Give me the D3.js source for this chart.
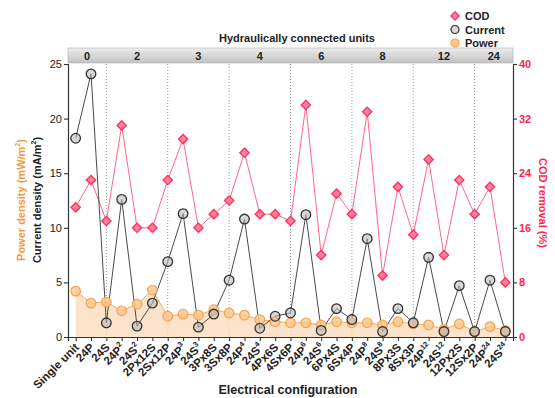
<!DOCTYPE html>
<html>
<head>
<meta charset="utf-8">
<script src="https://cdn.jsdelivr.net/npm/d3@7"></script>
<style>
  body { margin: 0; background: #fff; }
  svg { font-family: "Liberation Sans", Arial, sans-serif; }
</style>
</head>
<body>
<script>
// categories, "^" marks the superscript part
var categories = ["Single unit", "24P", "24S", "24P^2", "24S^2", "2Px12S", "2Sx12P",
  "24P^3", "24S^3", "3Px8S", "3Sx8P", "24P^4", "24S^4", "4Px6S", "4Sx6P",
  "24P^6", "24S^6", "6Px4S", "6Sx4P", "24P^8", "24S^8", "8Px3S", "8Sx3P",
  "24P^12", "24S^12", "12Px2S", "12Sx2P", "24P^24", "24S^24"];

var currentVals = [18.2, 24.1, 1.3, 12.6, 1.0, 3.1, 6.9, 11.3, 0.9, 2.1, 5.2, 10.8, 0.8, 1.9, 2.2,
  11.2, 0.6, 2.6, 1.6, 9.0, 0.5, 2.6, 1.3, 7.3, 0.5, 4.7, 0.5, 5.2, 0.5];

var powerVals = [4.2, 3.1, 3.2, 2.4, 3.0, 4.3, 1.9, 2.1, 2.0, 2.5, 2.2, 2.0, 1.6, 1.4, 1.3,
  1.3, 1.1, 1.4, 1.3, 1.3, 1.1, 1.4, 1.2, 1.1, 0.7, 1.2, 0.5, 0.95, 0.6];

var codVals = [19, 23, 17, 31, 16, 16, 23, 29, 16, 18, 20, 27, 18, 18, 17,
  34, 12, 21, 18, 33, 9, 22, 15, 26, 12, 23, 18, 22, 8];

// hydraulically connected units: header labels and the last category of each block
var groupLabels = ["0", "2", "3", "4", "6", "8", "12", "24"];
var groupEnds = ["24S", "2Sx12P", "3Sx8P", "4Sx6P", "6Sx4P", "8Sx3P", "12Sx2P"];

var leftTicks = [0, 5, 10, 15, 20, 25];
var rightTicks = [0, 8, 16, 24, 32, 40];

var W = 555, H = 398;
var pLeft = 68, pRight = 513, pTop = 64, pBottom = 337;

var svg = d3.select("body").append("svg")
  .attr("width", W).attr("height", H);

var x = d3.scalePoint().domain(categories).range([pLeft, pRight]).padding(0.5);
var y = d3.scaleLinear().domain([0, 25]).range([pBottom, pTop]);
var y2 = d3.scaleLinear().domain([0, 40]).range([pBottom, pTop]);

// header gradient
var defs = svg.append("defs");
var grad = defs.append("linearGradient").attr("id", "hdr")
  .attr("x1", 0).attr("y1", 0).attr("x2", 0).attr("y2", 1);
grad.append("stop").attr("offset", "0%").attr("stop-color", "#ececec");
grad.append("stop").attr("offset", "100%").attr("stop-color", "#c2c2c2");

// group boundaries
var bounds = [pLeft].concat(groupEnds.map(function(c) { return x(c); })).concat([pRight]);

svg.append("rect")
  .attr("x", pLeft).attr("y", 48).attr("width", pRight - pLeft).attr("height", 15)
  .attr("fill", "url(#hdr)").attr("stroke", "#b0b0b0").attr("stroke-width", 0.6);

svg.selectAll(".glab")
  .data(groupLabels)
  .enter().append("text")
  .attr("class", "glab")
  .attr("x", function(d, i) { return (bounds[i] + bounds[i + 1]) / 2; })
  .attr("y", 60)
  .attr("text-anchor", "middle")
  .attr("font-size", 11).attr("font-weight", "bold").attr("fill", "#222")
  .text(function(d) { return d; });

svg.append("text")
  .attr("x", 297).attr("y", 42)
  .attr("text-anchor", "middle")
  .attr("font-size", 11).attr("font-weight", "bold").attr("fill", "#222")
  .text("Hydraulically connected units");

// dotted separators
svg.selectAll(".sep")
  .data(groupEnds)
  .enter().append("line")
  .attr("class", "sep")
  .attr("x1", function(d) { return x(d); })
  .attr("x2", function(d) { return x(d); })
  .attr("y1", pTop).attr("y2", pBottom)
  .attr("stroke", "#9a9a9a").attr("stroke-width", 1)
  .attr("stroke-dasharray", "1,2");

// power area + line
var area = d3.area()
  .x(function(d, i) { return x(categories[i]); })
  .y0(y(0))
  .y1(function(d) { return y(d); });

svg.append("path")
  .datum(powerVals)
  .attr("d", area)
  .attr("fill", "#fcdcbd").attr("opacity", 0.8);

var line = function(scale) {
  return d3.line()
    .x(function(d, i) { return x(categories[i]); })
    .y(function(d) { return scale(d); });
};

svg.append("path")
  .datum(powerVals)
  .attr("d", line(y))
  .attr("fill", "none").attr("stroke", "#f7a860").attr("stroke-width", 1);

svg.append("path")
  .datum(codVals)
  .attr("d", line(y2))
  .attr("fill", "none").attr("stroke", "#ff6688").attr("stroke-width", 1);

svg.append("path")
  .datum(currentVals)
  .attr("d", line(y))
  .attr("fill", "none").attr("stroke", "#4a4a4a").attr("stroke-width", 1);

// markers
svg.selectAll(".pw")
  .data(powerVals)
  .enter().append("circle")
  .attr("class", "pw")
  .attr("cx", function(d, i) { return x(categories[i]); })
  .attr("cy", function(d) { return y(d); })
  .attr("r", 4.8)
  .attr("fill", "#fcc990").attr("stroke", "#f6a24e").attr("stroke-width", 1.2)
  .attr("fill-opacity", 0.85);

var diamond = d3.symbol().type(d3.symbolDiamond2).size(55);

svg.selectAll(".cod")
  .data(codVals)
  .enter().append("path")
  .attr("class", "cod")
  .attr("transform", function(d, i) { return "translate(" + x(categories[i]) + "," + y2(d) + ")"; })
  .attr("d", diamond)
  .attr("fill", "#ff7f9c").attr("stroke", "#ff2d5f").attr("stroke-width", 1.3);

svg.selectAll(".cur")
  .data(currentVals)
  .enter().append("circle")
  .attr("class", "cur")
  .attr("cx", function(d, i) { return x(categories[i]); })
  .attr("cy", function(d) { return y(d); })
  .attr("r", 4.8)
  .attr("fill", "#b8b8b8").attr("fill-opacity", 0.55)
  .attr("stroke", "#333").attr("stroke-width", 1.3);

// axes
var yAxis = svg.append("g")
  .attr("transform", "translate(" + pLeft + ",0)")
  .call(d3.axisLeft(y).tickValues(leftTicks).tickSize(4).tickPadding(2));
yAxis.selectAll("text").attr("font-size", 11).attr("fill", "#222")
  .attr("font-family", "Liberation Sans, Arial, sans-serif");

var y2Axis = svg.append("g")
  .attr("transform", "translate(" + pRight + ",0)")
  .call(d3.axisRight(y2).tickValues(rightTicks).tickSize(4).tickPadding(2));
y2Axis.selectAll("text").attr("font-size", 11).attr("font-weight", "bold").attr("fill", "#ff1f4f")
  .attr("font-family", "Liberation Sans, Arial, sans-serif");

var xAxis = svg.append("g")
  .attr("transform", "translate(0," + pBottom + ")")
  .call(d3.axisBottom(x).tickSize(4).tickFormat(""));

[yAxis, y2Axis, xAxis].forEach(function(g) {
  g.select(".domain").attr("stroke", "#333").attr("stroke-width", 1.2);
  g.selectAll(".tick line").attr("stroke", "#333").attr("stroke-width", 1.1);
});

// rotated category labels with superscripts
var labs = svg.selectAll(".xlab")
  .data(categories)
  .enter().append("text")
  .attr("class", "xlab")
  .attr("text-anchor", "end")
  .attr("font-size", 11.5).attr("font-weight", "bold").attr("fill", "#222")
  .attr("transform", function(d) { return "translate(" + (x(d) + 4) + "," + (pBottom + 11) + ") rotate(-45)"; });

labs.each(function(d) {
  var parts = d.split("^");
  var t = d3.select(this);
  t.append("tspan").text(parts[0]);
  if (parts[1]) {
    t.append("tspan").attr("font-size", 7.5).attr("dy", -5).text(parts[1]);
  }
});

svg.append("text")
  .attr("x", 288).attr("y", 394)
  .attr("text-anchor", "middle")
  .attr("font-size", 12.5).attr("font-weight", "bold").attr("fill", "#222")
  .text("Electrical configuration");

// left titles
var lt1 = svg.append("text")
  .attr("transform", "translate(25,200) rotate(-90)")
  .attr("text-anchor", "middle")
  .attr("font-size", 11).attr("font-weight", "bold").attr("fill", "#f59a3a");
lt1.append("tspan").text("Power density (mW/m");
lt1.append("tspan").attr("font-size", 7).attr("dy", -5).text("2");
lt1.append("tspan").attr("dy", 5).text(")");

var lt2 = svg.append("text")
  .attr("transform", "translate(41,200) rotate(-90)")
  .attr("text-anchor", "middle")
  .attr("font-size", 11).attr("font-weight", "bold").attr("fill", "#222");
lt2.append("tspan").text("Current density (mA/m");
lt2.append("tspan").attr("font-size", 7).attr("dy", -5).text("2");
lt2.append("tspan").attr("dy", 5).text(")");

svg.append("text")
  .attr("transform", "translate(539,203) rotate(90)")
  .attr("text-anchor", "middle")
  .attr("font-size", 11).attr("font-weight", "bold").attr("fill", "#ff1f4f")
  .text("COD removal (%)");

// legend
var legend = [
  { name: "COD", kind: "cod" },
  { name: "Current", kind: "cur" },
  { name: "Power", kind: "pw" }
];
var lg = svg.selectAll(".lg")
  .data(legend)
  .enter().append("g")
  .attr("class", "lg")
  .attr("transform", function(d, i) { return "translate(455," + (16 + i * 13.5) + ")"; });

lg.each(function(d) {
  var g = d3.select(this);
  if (d.kind == "cod") {
    g.append("path").attr("d", d3.symbol().type(d3.symbolDiamond2).size(45))
      .attr("fill", "#ff7f9c").attr("stroke", "#ff2d5f").attr("stroke-width", 1.2);
  } else if (d.kind == "cur") {
    g.append("circle").attr("r", 4).attr("fill", "#b8b8b8").attr("fill-opacity", 0.55)
      .attr("stroke", "#333").attr("stroke-width", 1.2);
  } else {
    g.append("circle").attr("r", 4).attr("fill", "#fcc990").attr("stroke", "#f6a24e")
      .attr("stroke-width", 1.2);
  }
  g.append("text").attr("x", 10).attr("y", 4)
    .attr("font-size", 11).attr("font-weight", "bold").attr("fill", "#222")
    .text(d.name);
});
</script>
</body>
</html>
